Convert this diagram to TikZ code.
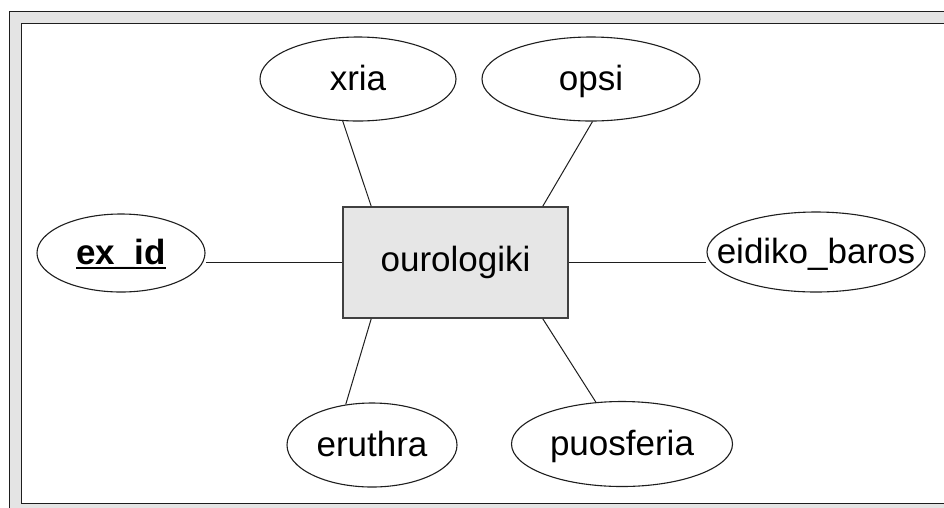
\documentclass[tikz,border=0pt]{standalone}
\usepackage{fontspec}
\setmainfont{Liberation Sans}
\usetikzlibrary{shapes.geometric,calc}

\definecolor{panelgray}{HTML}{E4E4E4}
\definecolor{boxgray}{HTML}{E6E6E6}
\definecolor{inkdark}{HTML}{1E1E1E}

% centred label of zero size, baseline lowered by the given amount
\newcommand{\erlabel}[2][9.1pt]{\makebox[0pt]{\smash{\raisebox{-#1}{#2}}}}
% key attribute: bold with a heavy underline
\newcommand{\keyattr}[1]{\setbox0\hbox{\bfseries #1}\rlap{\rule[-5pt]{\wd0}{2.4pt}}\box0}
\newcommand{\attrlabel}[1]{\erlabel[11pt]{#1}}

\tikzset{
  attr/.style={ellipse, draw=inkdark, line width=1.1pt, fill=white,
    inner sep=0pt, font=\fontsize{35}{40}\selectfont},
  entitybox/.style={rectangle, draw=inkdark!85, line width=1.6pt, fill=boxgray,
    inner sep=0pt, minimum width=225pt, minimum height=111pt,
    font=\fontsize{35}{40}\selectfont},
  link/.style={draw=inkdark, line width=1pt}
}

\begin{document}
\begin{tikzpicture}[x=1pt,y=-1pt]
  \useasboundingbox (0,0) rectangle (944,507);
  \clip (0,0) rectangle (944,507);

  % window frame
  \fill[white] (0,0) rectangle (944,507);
  \draw[fill=panelgray, draw=inkdark, line width=1.5pt] (9.5,11.5) rectangle (980,540);
  \draw[fill=white, draw=inkdark, line width=1.3pt] (21.5,23.5) rectangle (970,503.5);

  % entity
  \node[entitybox] (r) at (455.5,262.5) {\erlabel{ourologiki}};

  % attributes
  \node[attr, minimum width=196pt, minimum height=84pt] (xria) at (358,79) {\attrlabel{xria}};
  \node[attr, minimum width=218pt, minimum height=84pt] (opsi) at (591,79) {\attrlabel{opsi}};
  \node[attr, minimum width=168pt, minimum height=78pt] (exid) at (121,253)
    {\attrlabel{\keyattr{ex\_id}}};
  \node[attr, minimum width=218pt, minimum height=80pt] (eid) at (816,252) {\attrlabel{eidiko\_baros}};
  \node[attr, minimum width=170pt, minimum height=84pt] (eru) at (372,445) {\attrlabel{eruthra}};
  \node[attr, minimum width=221pt, minimum height=85pt] (puo) at (622,444) {\attrlabel{puosferia}};

  % attachment points on the entity box
  \coordinate (rtl) at ($(r.north west)+(29,0)$);
  \coordinate (rtr) at ($(r.north east)+(-26,0)$);
  \coordinate (rbl) at ($(r.south west)+(29,0)$);
  \coordinate (rbr) at ($(r.south east)+(-26,0)$);

  % connectors
  \draw[link] (r.west) -- (r.west -| exid.east);
  \draw[link] (r.east) -- (r.east -| eid.west);
  \draw[link] (rtl) -- (xria.-110);
  \draw[link] (rtr) -- (opsi.-88);
  \draw[link] (rbl) -- (eru.123);
  \draw[link] (rbr) -- (puo.122);
\end{tikzpicture}
\end{document}
